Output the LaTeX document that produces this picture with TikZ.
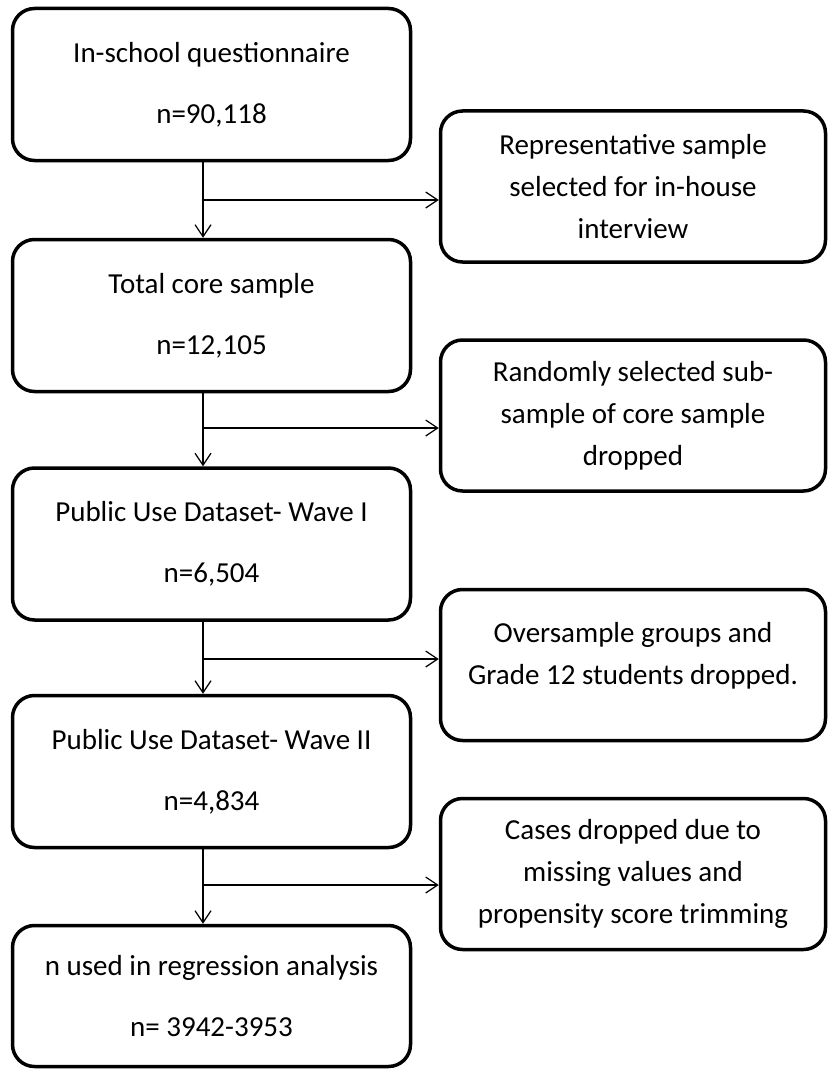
\documentclass[tikz,border=0pt]{standalone}
\usepackage{fontspec}
\setmainfont{Carlito}
\usetikzlibrary{arrows.meta}

\tikzset{
	mainbox/.style={draw, line width=1.75pt, rounded corners=11pt, minimum width=199pt, minimum height=76pt,
		align=center, inner sep=0pt, font=\fontsize{14.5pt}{30.5pt}\selectfont},
	sidebox/.style={draw, line width=1.75pt, rounded corners=11pt, minimum width=192.5pt, minimum height=75.5pt,
		align=center, inner sep=0pt, font=\fontsize{14.5pt}{21pt}\selectfont},
	arr/.style={-{Straight Barb[length=6pt,width=8pt]}, line width=0.6pt}
}

\begin{document}
\begin{tikzpicture}[x=0.5pt, y=-0.5pt]

	\useasboundingbox (0,0) rectangle (829,1070);

	% main column
	\node[mainbox] (b1) at (211.5,84.5) {In-school questionnaire\\n=90,118};
	\node[mainbox] (b2) at (211.5,315.5) {Total core sample\\n=12,105};
	\node[mainbox] (b3) at (211.5,544) {Public Use Dataset- Wave I\\n=6,504};
	\node[mainbox] (b4) at (211.5,771.5) {Public Use Dataset- Wave II\\n=4,834};
	\node[mainbox, minimum height=70.5pt] (b5) at (211.5,996) {n used in regression analysis\\n= 3942-3953};

	% dropped cases
	\node[sidebox] (r1) at (633,186.5) {Representative sample\\selected for in-house\\interview};
	\node[sidebox] (r2) at (633,415.5) {Randomly selected sub-\\sample of core sample\\dropped};
	\node[sidebox] (r3) at (633,665) {Oversample groups and\\Grade 12 students dropped.\\[-9pt]\mbox{}};
	\node[sidebox] (r4) at (633,874) {Cases dropped due to\\missing values and\\propensity score trimming};

	% branch points
	\coordinate (j1) at (203,200);
	\coordinate (j2) at (203,428);
	\coordinate (j3) at (203,659);
	\coordinate (j4) at (203,885);

	\foreach \i/\j in {1/2, 2/3, 3/4, 4/5}
		{
			\draw[arr] (b\i.south -| j\i) -- (b\j.north -| j\i);
			\draw[arr] (j\i) -- (r\i.west |- j\i);
		}

\end{tikzpicture}
\end{document}
